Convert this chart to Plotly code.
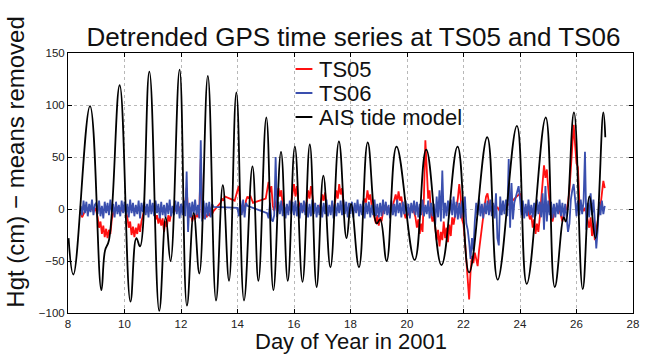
import numpy as np
import plotly.graph_objects as go

# ---------------- AIS tide model (day, cm) read at extremes / inflections ----------------
tide_day = [8.02, 8.19, 8.78, 9.18, 9.31, 9.45, 9.83, 10.21, 10.42, 10.55, 10.88, 11.23,
            11.46, 11.63, 11.95, 12.21, 12.45, 12.65, 12.95, 13.24, 13.48, 13.70, 13.96,
            14.23, 14.53, 14.74, 15.02, 15.27, 15.54, 15.78, 16.03, 16.30, 16.56, 16.80,
            17.04, 17.29, 17.59, 17.86, 18.02, 18.30, 18.61, 18.93, 19.05, 19.28, 19.63,
            20.27, 20.68, 21.22, 21.79, 22.20, 22.84, 23.21, 23.89, 24.24, 24.91, 25.23,
            25.55, 25.62, 25.91, 26.22, 26.46, 26.67, 26.95, 27.02]
tide_cm = [-28, -63, 99, -78, -40, -30, 119, -89, -28, -36, 132, -98,
           -8, -50, 134, -93, -4, -62, 128, -88, 23, -69, 112,
           -88, 41, -69, 88, -78, 55, -69, 60, -70, 62, -75,
           32, -56, 65, -28, 5, -56, 64, -14, -10, -50, 60,
           -49, 57, -54, 60, -61, 69, -68, 80, -72, 88, -75,
           -8, -12, 93, -77, 12, -28, 93, 69]

# ---------------- GPS series: samples every 0.05 day from day 8.45 to 27.00 ----------------
T0 = 8.45
DT = 0.05
N = None  # data gap

ts06_cm = (
    [3, -6, 8, -4, 7, -7, 5, -3, 9, -6, 4] +                                               # 8.45-8.95
    [6, -5, 8, -7, 3, -9, 7, -4, 6, -6, 9, -3, 5, -8, 7, -5, 4, -7, 8, -4] +               # 9
    [7, -6, 5, -8, 9, -4, 6, -7, 4, -5, 8, -9, 6, -3, 7, -6, 5, -8, 9, -5] +               # 10
    [6, -7, 8, -4, 5, -9, 7, -6, 4, -8, 6, -5, 9, -7, 3, -6, 8, -5, 7, -9] +               # 11
    [5, -6, 8, -7, 36, -22, 6, -8, 7, -5, 9, -6, 4, -9, 66, -12, 8, -10, 6, -7] +          # 12
    [7, -8, 5, 2] + [N] * 16 +                                                             # 13
    [1, -7, 8, -6, 9, -8, 6, 3] + [N] * 12 +                                               # 14
    [N, -4, -9, 6, -10, -12, -6, 50, -8, 7, -5, 8, -7, 6, -9, 5, -6, 8, -5, 7] +           # 15
    [-6, 8, -7, 5, -9, 6, -4, 8, -6, 7, -8, 5, -7, 9, -5, 6, -8, 4, -6, 7] +               # 16
    [-8, 6, -5, 9, -7, 4, -6, 8, -9, 5, -7, 6, -4, 8, -6, 9, -5, 7, -8, 6] +               # 17
    [-5, 7, -8, 6, -4, 9, -7, 5, -6, 8, -9, 6, -5, 7, -8, 4, -6, 9, -7, 5] +               # 18
    [-8, 6, -7, 9, -5, 7, -6, 4, -9, 8, -6, 5, -7, 9, -4, 6, -8, 7, -5, 8] +               # 19
    [-7, 5, -9, 6, -4, 8, -6, 7, -8, 5, -6, 9, -7, 4, -5, 8, -9, 6, -7, 5] +               # 20
    [-15, 12, -8, 18, -12, 37, -9, 6, -7, 8, -5, 9, -6, 12, -8, 7, -10, 6, -9, 8] +        # 21
    [-8, 12, -14, -20, -32, -48, -28, -40, -12, 6, -6, 10, -7, 5, -9, 6, -5, 8, -6, 9] +   # 22
    [-7, 6, -9, 15, -28, -35, 12, -6, 8, -5, 9, -7, 48, -18, 25, -10, 6, 12, 18, 22] +     # 23
    [10, -6, 8, -9, 5, -7, 9, -6, 4, -8, 6, -7, 9, -5, 7, -8, 15, -20, 22, -12] +          # 24
    [8, -6, 7, -9, 5, -8, 6, -5, 9, -7, 6, -8, 5, -12, -22, -14, 9, 18, 24, 10] +          # 25
    [-7, 8, -6, 9, -5, 7, 55, -20, 6, -8, 15, -6, 9, -12, -38, -20, 7, -6, 8, -5] +        # 26
    [3]                                                                                    # 27.00
)

ts05_cm = (
    [-3, -8, -5, -2, 1, -2, 2, -1, 1, -2, 1] +                                             # 8.45-8.95
    [-2, -8, -18, -12, -24, -16, -27, -19, -28, -20, -24, -10, -4, 1, -1, 2, -1, 1, -2, 1] +   # 9
    [1, -2, -8, -18, -12, -25, -17, -27, -18, -24, -14, -22, -12, -6, -1, 2, -1, 1, -2, 1] +   # 10
    [-1, -3, -10, -6, -14, -8, -16, -9, -22, -12, -17, -6, -12, -4, -1, 1, -2, 1, -1, 2] +     # 11
    [-1, 2, -4, 5, 20, -3, -8, -5, -12, -6, -10, -4, -8, -3, 48, -6, -9, -4, -8, -5] +         # 12
    [-6, -3, -5, -2] + [N] * 4 + [6, 10, 8, 12] + [N] * 6 + [8, 14] +                         # 13
    [18, 22, 3, -4, 5, -3, 8, 12, 10, 13, 9, 6] + [N] * 8 +                                    # 14
    [10, 18, 26, 16, 22, 3, -2, 5, 14, 20, 12, 18, 4, -2, 1, -2, 1, -1, 6, 14] +               # 15
    [24, 12, 22, 8, 2, -1, 1, -2, 1, 6, 18, 10, 22, 12, 3, -1, 1, -2, 1, 5] +                  # 16
    [14, 8, 16, 3, -1, 1, -2, 1, -1, 6, 18, 10, 24, 14, 20, 4, -1, 1, -2, 1] +                 # 17
    [-1, 2, -1, 1, -2, 1, -1, 2, -1, 4, 10, 6, 18, 9, 14, 3, -3, -8, -14, -6] +                # 18
    [-16, -8, -12, -3, 1, -1, 2, -1, 1, -2, 3, 8, 14, 6, 17, 8, 12, 2, -4, -9] +               # 19
    [-3, -6, 1, -1, 2, -3, -8, -18, -10, -24, -14, -22, 12, 66, 30, 10, 18, -4, -12, -6] +     # 20
    [-18, -30, -20, -36, -22, -30, -12, -28, -18, -32, -15, -26, -8, -15, -6, 2, 10, 24, 12, -10] +  # 21
    [-15, -30, -50, -72, -87, -60, -45, -52, -42, -48, -55, -40, -28, -18, -8, 4, 12, 15, 6, -2] +   # 22
    [1, -2, 1, -1, 2, -1, -3, -2] + [N] * 12 +                                                  # 23
    [15, 4, -2, 1, -1, 2, -4, -10, -6, -18, -10, -24, -14, -22, -8, 10, 28, 42, 30, 38] +      # 24
    [20, 5, -8, -12, -4, 1, -1, 2, -1, -6, -12, -5, 1, -1, 6, 18, 42, 66, 81, 62] +            # 25
    [44, 40, 8, -1, 1, -2, 1, -4, -10, -18, -8, -26, -14, -30, -20, -8, -2, 3, 14, 27] +       # 26
    [20]                                                                                       # 27.00
)

assert len(ts06_cm) == len(ts05_cm), (len(ts06_cm), len(ts05_cm))
gps_day = T0 + DT * np.arange(len(ts06_cm))

x_ticks = list(range(8, 29, 2))
y_ticks = [-100, -50, 0, 50, 100, 150]

series_names = ["TS05", "TS06", "AIS tide model"]
series_colors = ["#ff1010", "#3a4fae", "black"]

FONT = "Liberation Sans, Arial, Helvetica, sans-serif"

fig = go.Figure()
fig.add_trace(go.Scatter(x=gps_day, y=ts05_cm, mode="lines", name=series_names[0],
                         line=dict(color=series_colors[0], width=1.8), connectgaps=True,
                         showlegend=False))
fig.add_trace(go.Scatter(x=gps_day, y=ts06_cm, mode="lines", name=series_names[1],
                         line=dict(color=series_colors[1], width=1.8), connectgaps=True,
                         showlegend=False))
fig.add_trace(go.Scatter(x=tide_day, y=tide_cm, mode="lines", name=series_names[2],
                         line=dict(color=series_colors[2], width=1.8, shape="spline", smoothing=1.2),
                         showlegend=False))

axis_common = dict(showgrid=True, gridcolor="#b8b8b8", griddash="dot", gridwidth=1,
                   zeroline=False, showline=True, linecolor="black", linewidth=1,
                   mirror="ticks", ticks="inside", ticklen=4, tickcolor="black",
                   tickfont=dict(family=FONT, size=11.5, color="#222"))

fig.update_layout(
    width=648, height=355,
    margin=dict(l=68, r=9, t=53, b=42, pad=0),
    paper_bgcolor="white", plot_bgcolor="white",
    font=dict(family=FONT, color="#111"),
    title=dict(text="Detrended GPS time series at TS05 and TS06", x=0.5455, xanchor="center",
               y=1 - 37 / 355, yanchor="middle", yref="container",
               font=dict(family=FONT, size=26, color="#111")),
    xaxis=dict(range=[8, 28], tickvals=x_ticks, **axis_common),
    yaxis=dict(range=[-100, 150], tickvals=y_ticks, **axis_common),
    showlegend=False,
)

# Legend drawn in the MATLAB style: short line sample + large label, no box
leg_y_px = [69, 93, 117]
for name, color, ypx in zip(series_names, series_colors, leg_y_px):
    yp = (313 - ypx) / 260
    fig.add_shape(type="line", xref="paper", yref="paper",
                  x0=(298 - 68) / 571, x1=(315 - 68) / 571, y0=yp, y1=yp,
                  line=dict(color=color, width=2))
    fig.add_annotation(text=name, xref="paper", yref="paper", x=(321 - 68) / 571, y=yp,
                       xanchor="left", yanchor="middle", showarrow=False, borderpad=0,
                       font=dict(family=FONT, size=22, color="#111"))

fig.add_annotation(text="Day of Year in 2001", xref="paper", yref="paper", x=0.5,
                   y=(313 - 355) / 260, xanchor="center", yanchor="bottom", showarrow=False,
                   borderpad=0, font=dict(family=FONT, size=22, color="#111"))
fig.add_annotation(text="Hgt (cm) \u2212 means removed", xref="paper", yref="paper",
                   x=-0.093, y=0.58, xanchor="center", yanchor="middle", textangle=-90,
                   showarrow=False, borderpad=0, font=dict(family=FONT, size=24, color="#111"))

fig.write_html("out.html")
